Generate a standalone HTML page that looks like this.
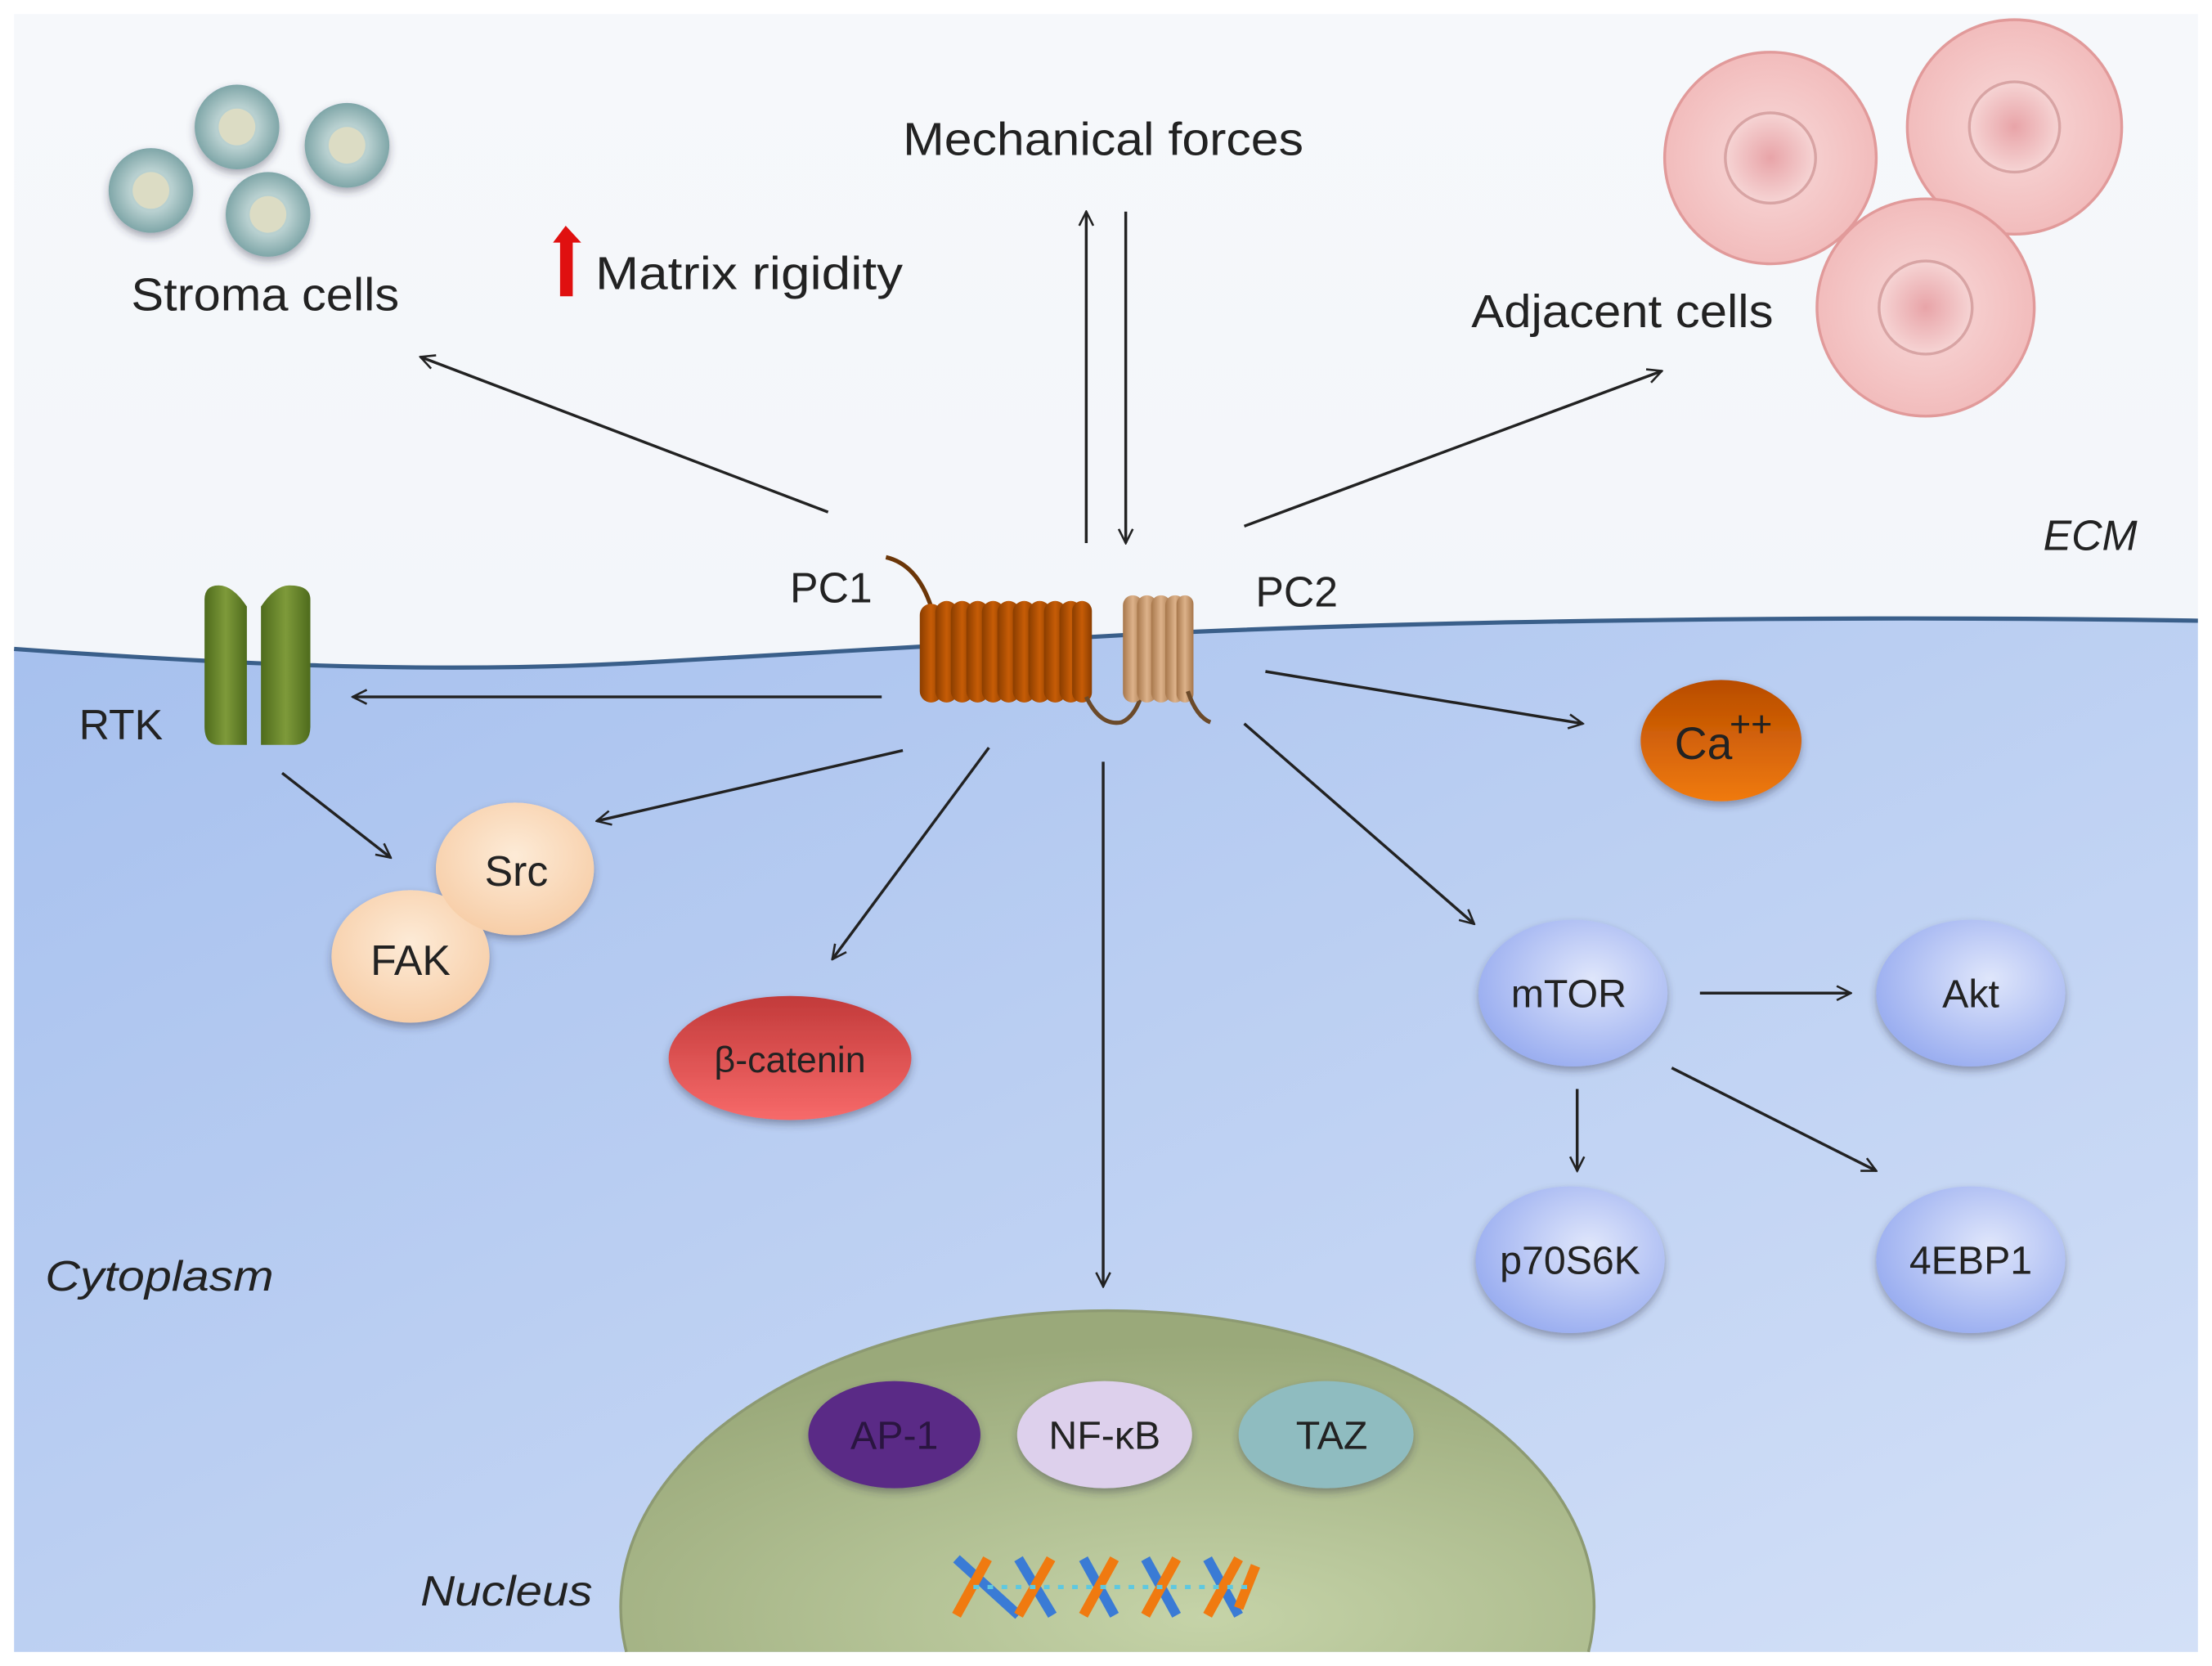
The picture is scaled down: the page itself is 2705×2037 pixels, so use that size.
<!DOCTYPE html>
<html><head><meta charset="utf-8"><style>
html,body{margin:0;padding:0;background:#fff;width:2705px;height:2037px;overflow:hidden;}
svg{display:block;}
text{font-family:"Liberation Sans",sans-serif;fill:#222;}
</style></head><body>
<svg width="2705" height="2037" viewBox="0 0 1568 1181" preserveAspectRatio="none" xmlns="http://www.w3.org/2000/svg">
<defs>
<linearGradient id="cyto" x1="0" y1="0" x2="1" y2="1">
<stop offset="0" stop-color="#a6c0ee"/><stop offset="1" stop-color="#d3e0f7"/></linearGradient>
<linearGradient id="ecm" x1="0" y1="0" x2="0" y2="1">
<stop offset="0" stop-color="#f6f8fb"/><stop offset="1" stop-color="#eef2f8"/></linearGradient>
<radialGradient id="nuc" cx="0.6" cy="0.9" r="0.8"><stop offset="0" stop-color="#c5d3a8"/><stop offset="1" stop-color="#9aa97a"/></radialGradient>
<radialGradient id="blue" cx="0.6" cy="0.4" r="0.7"><stop offset="0" stop-color="#dfe6fb"/><stop offset="1" stop-color="#93a8ef"/></radialGradient>
<radialGradient id="peach" cx="0.5" cy="0.4" r="0.7"><stop offset="0" stop-color="#fdebd7"/><stop offset="1" stop-color="#f6c9a0"/></radialGradient>
<linearGradient id="red" x1="0" y1="0" x2="0" y2="1"><stop offset="0" stop-color="#c23a3a"/><stop offset="1" stop-color="#f76a6a"/></linearGradient>
<linearGradient id="ca" x1="0" y1="0" x2="0" y2="1"><stop offset="0" stop-color="#b84c00"/><stop offset="1" stop-color="#f07a10"/></linearGradient>
<linearGradient id="coil1" x1="0" y1="0" x2="1" y2="0"><stop offset="0" stop-color="#8a3d00"/><stop offset="0.5" stop-color="#c65c06"/><stop offset="1" stop-color="#8a3d00"/></linearGradient>
<linearGradient id="coil2" x1="0" y1="0" x2="1" y2="0"><stop offset="0" stop-color="#a7774b"/><stop offset="0.5" stop-color="#ddb28a"/><stop offset="1" stop-color="#a7774b"/></linearGradient>
<radialGradient id="pink" cx="0.5" cy="0.5" r="0.5"><stop offset="0" stop-color="#f8dada"/><stop offset="1" stop-color="#f2bcbc"/></radialGradient>
<radialGradient id="pinkin" cx="0.5" cy="0.5" r="0.5"><stop offset="0" stop-color="#e8a4a8"/><stop offset="1" stop-color="#f6d4d4"/></radialGradient>
<radialGradient id="teal" cx="0.5" cy="0.5" r="0.5"><stop offset="0.5" stop-color="#b8d0d0"/><stop offset="1" stop-color="#7fa6a8"/></radialGradient>
<linearGradient id="rtk" x1="0" y1="0" x2="1" y2="0"><stop offset="0" stop-color="#4e6b1c"/><stop offset="0.5" stop-color="#7e9a3a"/><stop offset="1" stop-color="#4e6b1c"/></linearGradient>
<marker id="ar" viewBox="0 0 12 12" refX="11" refY="6" markerWidth="12" markerHeight="12" markerUnits="userSpaceOnUse" orient="auto"><path d="M1,1 L11,6 L1,11" fill="none" stroke="#222" stroke-width="1.5"/></marker>
<filter id="sh" x="-20%" y="-20%" width="140%" height="140%"><feDropShadow dx="0" dy="3" stdDeviation="3" flood-color="#334" flood-opacity="0.4"/></filter>
</defs>
<rect width="1568" height="1181" fill="#fff"/>
<rect x="10" y="10" width="1548" height="1161" fill="url(#ecm)"/>
<path d="M10,460 C150,470 300,478 450,470 C600,462 700,455 800,450 C1000,440 1300,436 1558,440 L1558,1171 L10,1171 Z" fill="url(#cyto)"/>
<path d="M10,460 C150,470 300,478 450,470 C600,462 700,455 800,450 C1000,440 1300,436 1558,440" fill="none" stroke="#3a5f8a" stroke-width="3"/>
<path d="M444,1171 A345,210 0 1 1 1126,1171 Z" fill="url(#nuc)"/>
<path d="M444,1171 A345,210 0 1 1 1126,1171" fill="none" stroke="#8d9a72" stroke-width="2"/>
<g filter="url(#sh)">
<circle cx="168" cy="90" r="30" fill="url(#teal)"/><circle cx="246" cy="103" r="30" fill="url(#teal)"/>
<circle cx="107" cy="135" r="30" fill="url(#teal)"/><circle cx="190" cy="152" r="30" fill="url(#teal)"/>
</g>
<g fill="#dcdcc4"><circle cx="168" cy="90" r="13"/><circle cx="246" cy="103" r="13"/><circle cx="107" cy="135" r="13"/><circle cx="190" cy="152" r="13"/></g>
<g stroke="#e19a9a" stroke-width="2">
<circle cx="1255" cy="112" r="75" fill="url(#pink)"/><circle cx="1428" cy="90" r="76" fill="url(#pink)"/><circle cx="1365" cy="218" r="77" fill="url(#pink)"/>
<circle cx="1255" cy="112" r="32" fill="url(#pinkin)" stroke="#d8a4a4"/><circle cx="1428" cy="90" r="32" fill="url(#pinkin)" stroke="#d8a4a4"/><circle cx="1365" cy="218" r="33" fill="url(#pinkin)" stroke="#d8a4a4"/>
</g>
<text x="782" y="110" font-size="33" text-anchor="middle" textLength="284" lengthAdjust="spacingAndGlyphs">Mechanical forces</text>
<text x="188" y="220" font-size="33" text-anchor="middle" textLength="190" lengthAdjust="spacingAndGlyphs">Stroma cells</text>
<text x="422" y="205" font-size="33" textLength="218" lengthAdjust="spacingAndGlyphs">Matrix rigidity</text>
<path d="M392,172 L401,160 L412,172 L406,172 L406,210 L397,210 L397,172 Z" fill="#e01010"/>
<text x="1150" y="232" font-size="33" text-anchor="middle" textLength="214" lengthAdjust="spacingAndGlyphs">Adjacent cells</text>
<text x="1515" y="390" font-size="30" font-style="italic" text-anchor="end">ECM</text>
<text x="560" y="427" font-size="30">PC1</text>
<text x="890" y="430" font-size="30">PC2</text>
<text x="56" y="524" font-size="30">RTK</text>
<text x="32" y="915" font-size="30" font-style="italic" textLength="162" lengthAdjust="spacingAndGlyphs">Cytoplasm</text>
<text x="298" y="1138" font-size="30" font-style="italic" textLength="122" lengthAdjust="spacingAndGlyphs">Nucleus</text>
<g stroke="#222" stroke-width="2" fill="none" marker-end="url(#ar)">
<line x1="587" y1="363" x2="298" y2="253"/>
<line x1="770" y1="385" x2="770" y2="150"/>
<line x1="798" y1="150" x2="798" y2="385"/>
<line x1="882" y1="373" x2="1178" y2="263"/>
<line x1="625" y1="494" x2="250" y2="494"/>
<line x1="897" y1="476" x2="1122" y2="513"/>
<line x1="640" y1="532" x2="423" y2="582"/>
<line x1="701" y1="530" x2="590" y2="680"/>
<line x1="782" y1="540" x2="782" y2="912"/>
<line x1="882" y1="513" x2="1045" y2="655"/>
<line x1="200" y1="548" x2="277" y2="608"/>
<line x1="1205" y1="704" x2="1312" y2="704"/>
<line x1="1118" y1="772" x2="1118" y2="830"/>
<line x1="1185" y1="757" x2="1330" y2="830"/>
</g>
<path d="M145,470 L145,425 Q145,415 155,415 Q165,415 175,430 L175,528 L155,528 Q145,528 145,515 Z" fill="url(#rtk)"/>
<path d="M185,430 Q195,415 205,415 Q220,415 220,425 L220,515 Q220,528 208,528 L185,528 Z" fill="url(#rtk)"/>
<path d="M628,395 Q650,400 660,430" fill="none" stroke="#6b3608" stroke-width="3"/>
<g fill="url(#coil1)">
<rect x="652" y="428" width="16" height="70" rx="8"/><rect x="663" y="426" width="16" height="72" rx="8"/><rect x="674" y="426" width="16" height="72" rx="8"/><rect x="685" y="426" width="16" height="72" rx="8"/><rect x="696" y="426" width="16" height="72" rx="8"/><rect x="707" y="426" width="16" height="72" rx="8"/><rect x="718" y="426" width="16" height="72" rx="8"/><rect x="729" y="426" width="16" height="72" rx="8"/><rect x="740" y="426" width="16" height="72" rx="8"/><rect x="751" y="426" width="16" height="72" rx="8"/><rect x="760" y="426" width="14" height="72" rx="7"/>
</g>
<path d="M770,494 Q780,515 795,512 Q805,508 810,490" fill="none" stroke="#6b4a2a" stroke-width="3"/>
<g fill="url(#coil2)">
<rect x="796" y="422" width="14" height="76" rx="7"/><rect x="806" y="422" width="14" height="76" rx="7"/><rect x="816" y="422" width="14" height="76" rx="7"/><rect x="826" y="422" width="14" height="76" rx="7"/><rect x="834" y="422" width="12" height="76" rx="6"/>
</g>
<path d="M842,490 Q848,508 858,512" fill="none" stroke="#6b4a2a" stroke-width="3"/>
<g filter="url(#sh)">
<ellipse cx="1220" cy="525" rx="57" ry="43" fill="url(#ca)"/>
<ellipse cx="365" cy="616" rx="56" ry="47" fill="url(#peach)"/>
<ellipse cx="291" cy="678" rx="56" ry="47" fill="url(#peach)"/>
<ellipse cx="560" cy="750" rx="86" ry="44" fill="url(#red)"/>
<ellipse cx="1115" cy="704" rx="67" ry="52" fill="url(#blue)"/>
<ellipse cx="1397" cy="704" rx="67" ry="52" fill="url(#blue)"/>
<ellipse cx="1113" cy="893" rx="67" ry="52" fill="url(#blue)"/>
<ellipse cx="1397" cy="893" rx="67" ry="52" fill="url(#blue)"/>
<ellipse cx="634" cy="1017" rx="61" ry="38" fill="#5a2a86"/>
<ellipse cx="783" cy="1017" rx="62" ry="38" fill="#ddd0ec"/>
<ellipse cx="940" cy="1017" rx="62" ry="38" fill="#8fbcc0"/>
</g>
<ellipse cx="365" cy="616" rx="56" ry="47" fill="url(#peach)"/>
<text x="1187" y="538" font-size="32">Ca</text><text x="1226" y="522" font-size="26">++</text>
<text x="366" y="628" font-size="30" text-anchor="middle">Src</text>
<text x="291" y="691" font-size="30" text-anchor="middle">FAK</text>
<text x="560" y="760" font-size="26" text-anchor="middle">β-catenin</text>
<text x="1112" y="714" font-size="28" text-anchor="middle">mTOR</text>
<text x="1397" y="714" font-size="28" text-anchor="middle">Akt</text>
<text x="1113" y="903" font-size="28" text-anchor="middle">p70S6K</text>
<text x="1397" y="903" font-size="28" text-anchor="middle">4EBP1</text>
<text x="634" y="1027" font-size="28" text-anchor="middle" style="fill:#2a1540">AP-1</text>
<text x="783" y="1027" font-size="28" text-anchor="middle">NF-κB</text>
<text x="944" y="1027" font-size="28" text-anchor="middle">TAZ</text>
<g stroke-width="7" fill="none">
<path d="M678,1105 L722,1145 M722,1105 L746,1145 M768,1105 L790,1145 M812,1105 L834,1145 M856,1105 L878,1145" stroke="#3a7bd5"/>
<path d="M700,1105 L678,1145 M745,1105 L722,1145 M790,1105 L768,1145 M834,1105 L812,1145 M878,1105 L856,1145 M890,1110 L878,1140" stroke="#f07a10"/>
<path d="M690,1125 L890,1125" stroke="#5ec8e0" stroke-width="3" stroke-dasharray="4 6"/>
</g>
</svg>
</body></html>
